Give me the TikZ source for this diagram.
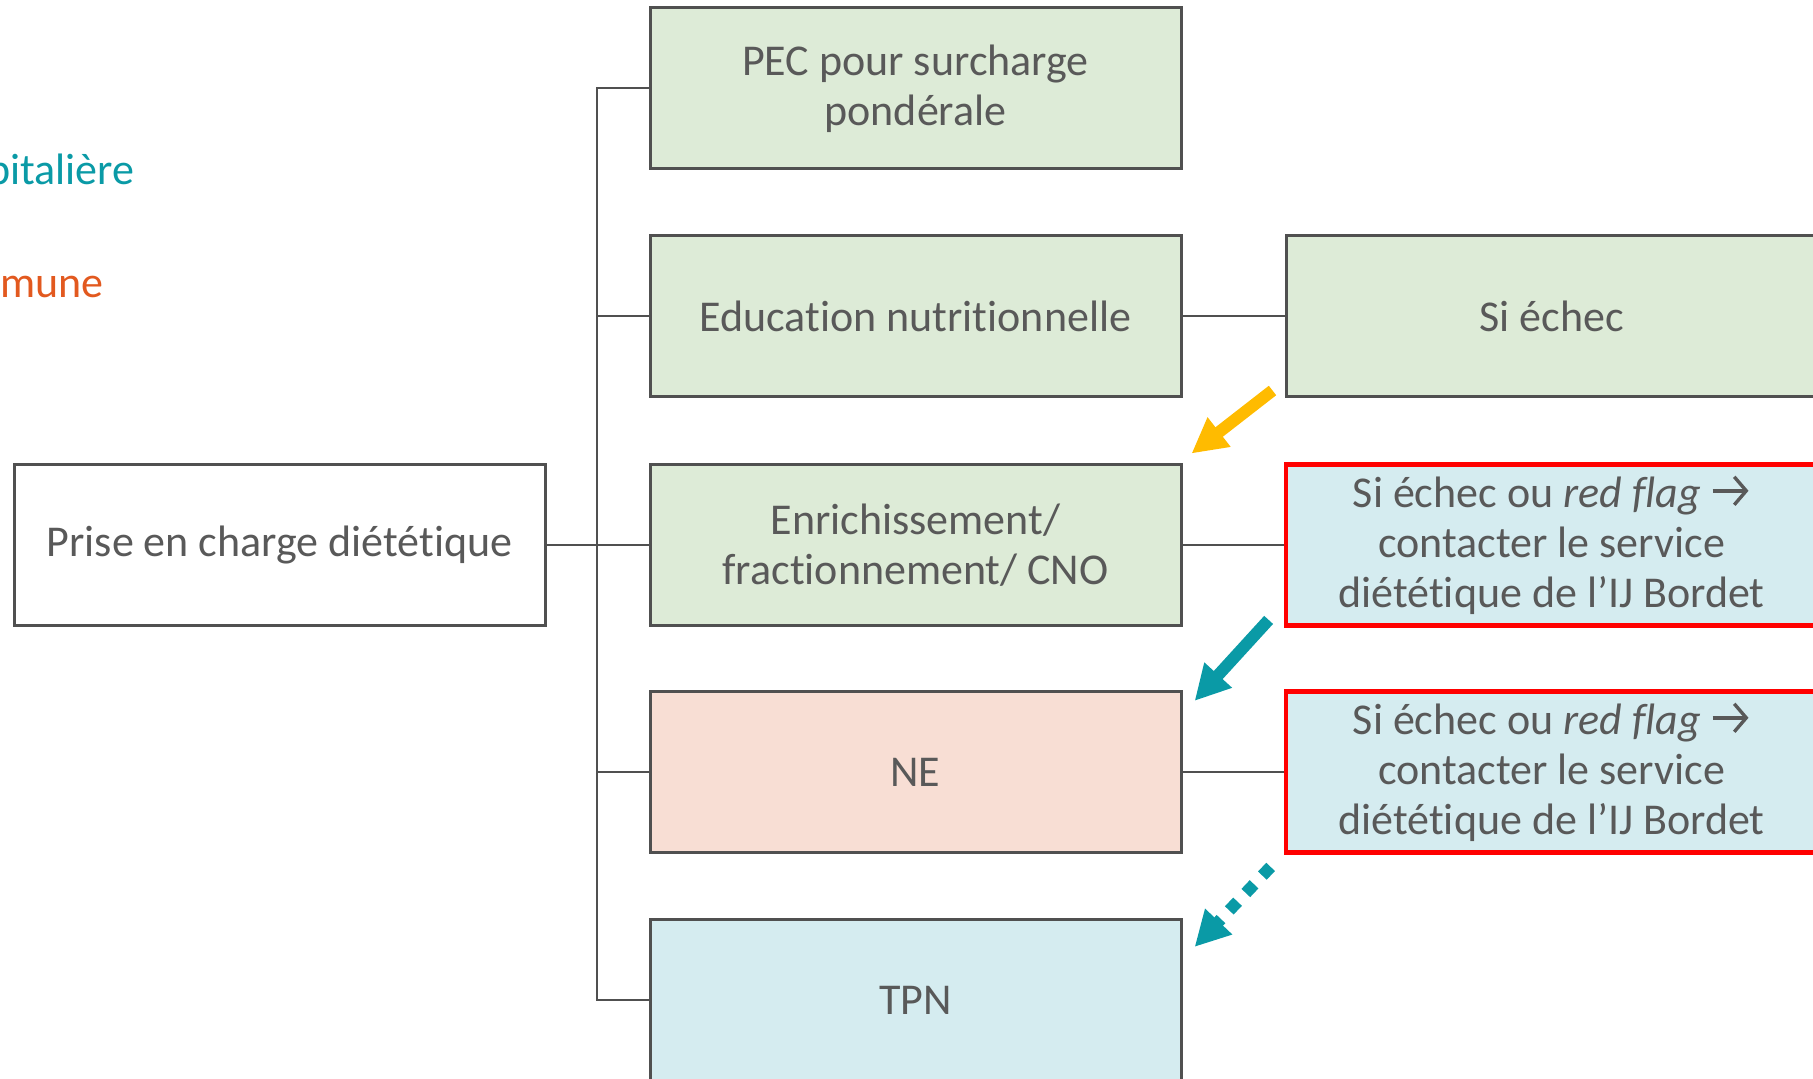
\documentclass[tikz,border=0pt]{standalone}
\usepackage{fontspec}
\setmainfont{Carlito}[Ligatures={NoCommon}]
\usetikzlibrary{arrows.meta,positioning}
\definecolor{txtgray}{HTML}{595959}
\definecolor{boxgray}{HTML}{505050}
\definecolor{cgreen}{HTML}{DDEBD7}
\definecolor{cpink}{HTML}{F8DED4}
\definecolor{cblue}{HTML}{D5ECF0}
\definecolor{cteal}{HTML}{0A9AA6}
\definecolor{corange}{HTML}{E2591F}
\definecolor{cyellow}{HTML}{FFBB00}
\definecolor{cred}{HTML}{FF0000}
\newcommand{\flagarrow}{\tikz[baseline=-8.5pt]\draw[txtgray, line width=1.7pt, -{Straight Barb[length=6pt,width=14pt]}] (0pt,0pt) -- (18pt,0pt);}
\tikzset{
  box/.style={draw=boxgray, line width=1.5pt, minimum width=265.5pt, minimum height=80.5pt,
    align=center, text=txtgray, font=\fontsize{22}{25}\selectfont, inner sep=0pt},
  flagbox/.style={box, draw=cred, line width=2.4pt, fill=cblue},
  legend/.style={anchor=east, inner sep=0pt, font=\fontsize{22}{25}\selectfont},
  link/.style={draw=boxgray, line width=1pt},
  bigarrow/.style={line width=6pt, -{Triangle[length=17.5pt,width=17.5pt]}},
}

\begin{document}
\begin{tikzpicture}[x=0.5pt,y=-0.5pt]
    \useasboundingbox (0,0) rectangle (1813,1079);
    % Legend (cut off on the left)
    \node[legend, text=cteal] (leg1) at (135,173) {pitalière};
    \node[legend, text=corange] (leg2) at (104,287) {mune};
    % Root
    \node[box, fill=white] (root) at (279.5,545) {Prise en charge diététique};
    % Options
    \foreach \i/\y/\c/\t in {1/88.5/cgreen/{PEC pour surcharge\\pondérale},
        2/316.5/cgreen/{Education nutritionnelle},
        3/545/cgreen/{Enrichissement/\\fractionnement/ CNO},
        4/772/cpink/{NE},
        5/1000/cblue/{TPN}} {
        \node[box, fill=\c] (m\i) at (915.5,\y) {\t};
    }
    % Escalation
    \node[box, fill=cgreen] (r2) at (1551.5,316.5) {Si échec};
    \node[flagbox] (r3) at (1551.5,545) {Si échec ou \textit{red flag} \flagarrow\\contacter le service\\diététique de l’IJ Bordet};
    \node[flagbox] (r4) at (1551.5,772) {Si échec ou \textit{red flag} \flagarrow\\contacter le service\\diététique de l’IJ Bordet};
    % Tree
    \coordinate (j) at (597,545);
    \draw[link] (root) -- (m3);
    \foreach \i in {1,2,4,5} \draw[link] (j) |- (m\i.west);
    \foreach \i in {2,3,4} \draw[link] (m\i) -- (r\i);
    % Arrows
    \draw[bigarrow, cyellow] (r2.south west) ++(-12,-8) -- ++(-81,63);
    \draw[bigarrow, cteal] (r3.south west) ++(-15,-8) -- ++(-74,81);
    \draw[bigarrow, cteal, dash pattern=on 6pt off 6pt] (r4.south west) ++(-13,12) -- ++(-76,80);
\end{tikzpicture}
\end{document}
